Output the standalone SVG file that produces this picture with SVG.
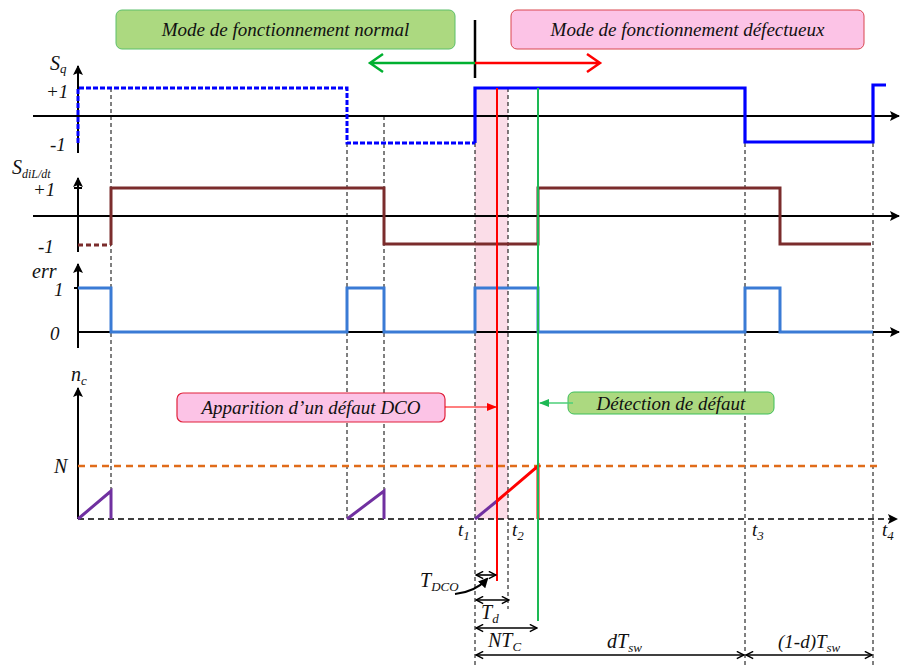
<svg xmlns="http://www.w3.org/2000/svg" width="905" height="666" viewBox="0 0 905 666">
<defs>
<marker id="ax" viewBox="0 0 10 10" refX="9" refY="5" markerWidth="10" markerHeight="10" markerUnits="userSpaceOnUse" orient="auto"><path d="M0,0 L10,5 L0,10 L2,5 z" fill="#000"/></marker>
<marker id="dim" viewBox="0 0 10 10" refX="9" refY="5" markerWidth="9" markerHeight="9" markerUnits="userSpaceOnUse" orient="auto-start-reverse"><path d="M1,1 L9,5 L1,9" fill="none" stroke="#000" stroke-width="1.6"/></marker>
<marker id="redA" viewBox="0 0 10 10" refX="9" refY="5" markerWidth="10" markerHeight="10" markerUnits="userSpaceOnUse" orient="auto"><path d="M0,1 L10,5 L0,9 z" fill="#ff0000"/></marker>
<marker id="grnA" viewBox="0 0 10 10" refX="9" refY="5" markerWidth="10" markerHeight="10" markerUnits="userSpaceOnUse" orient="auto"><path d="M0,1 L10,5 L0,9 z" fill="#1db954"/></marker>
<marker id="curA" viewBox="0 0 10 10" refX="8" refY="5" markerWidth="10" markerHeight="10" markerUnits="userSpaceOnUse" orient="auto"><path d="M0,0 L10,5 L0,10 z" fill="#000"/></marker>
</defs>
<style>
text{font-family:'Liberation Serif','DejaVu Serif',serif;font-style:italic;fill:#111;}
.lbl{font-size:19px;}
.ax{stroke:#000;stroke-width:2;fill:none;}
.dsh{stroke:#000;stroke-width:1;stroke-dasharray:4,3;fill:none;}
.dimL{stroke:#000;stroke-width:1.6;fill:none;marker-start:url(#dim);marker-end:url(#dim);}
</style>
<rect width="905" height="666" fill="#fff"/>

<g id="fault-band"><rect x="475" y="88" width="33" height="431" fill="#fbdde8"/></g>

<g id="guides">
<line class="dsh" x1="111" y1="88" x2="111" y2="519"/>
<line class="dsh" x1="347" y1="143" x2="347" y2="519"/>
<line class="dsh" x1="384" y1="116" x2="384" y2="519"/>
<line class="dsh" x1="475" y1="143" x2="475" y2="666"/>
<line class="dsh" x1="508" y1="88" x2="508" y2="609"/>
<line class="dsh" x1="745" y1="143" x2="745" y2="666"/>
<line class="dsh" x1="873" y1="143" x2="873" y2="666"/>
</g>

<g id="axes">
<line class="ax" x1="78" y1="153" x2="78" y2="66" marker-end="url(#ax)"/>
<line class="ax" x1="33" y1="116" x2="899" y2="116" marker-end="url(#ax)"/>
<line class="ax" x1="78" y1="252" x2="78" y2="178" marker-end="url(#ax)"/>
<line class="ax" x1="74" y1="188" x2="82" y2="188"/>
<line class="ax" x1="33" y1="216" x2="899" y2="216" marker-end="url(#ax)" stroke-width="1.6"/>
<line class="ax" x1="78" y1="348" x2="78" y2="264" marker-end="url(#ax)"/>
<line class="ax" x1="74" y1="288" x2="78" y2="288"/>
<line class="ax" x1="78" y1="332" x2="899" y2="332" marker-end="url(#ax)" stroke-width="1.6"/>
<line class="ax" x1="78" y1="519" x2="78" y2="388" marker-end="url(#ax)"/>
<line x1="78" y1="519" x2="897" y2="519" stroke="#000" stroke-width="1.6" stroke-dasharray="6,4" marker-end="url(#ax)"/>
<line x1="78" y1="466" x2="878" y2="466" stroke="#e06c1a" stroke-width="2.5" stroke-dasharray="7,5"/>
</g>

<g id="signal-sq">
<path d="M78,143 L78,88 L347,88 L347,143 L475,143" fill="none" stroke="#0000ff" stroke-width="3" stroke-dasharray="5,2"/>
<path d="M475,143 L475,88 L745,88 L745,142 L873,142 L873,85 L886,85" fill="none" stroke="#0000ff" stroke-width="3.2"/>
</g>

<g id="signal-sdil">
<path d="M78,245 L111,245" fill="none" stroke="#7b2c2c" stroke-width="3" stroke-dasharray="5,3"/>
<path d="M111,245 L111,188 L384,188 L384,244 L538,244 L538,188 L780,188 L780,244 L871,244" fill="none" stroke="#7b2c2c" stroke-width="3"/>
</g>

<g id="signal-err">
<path d="M78,288 L111,288 L111,332 L347,332 L347,288 L384,288 L384,332 L475,332 L475,288 L538,288 L538,332 L745,332 L745,288 L780,288 L780,332 L873,332" fill="none" stroke="#3a7bd5" stroke-width="3"/>
</g>

<g id="signal-nc">
<path d="M78,519 L111,491 L111,519" fill="none" stroke="#7030a0" stroke-width="3"/>
<path d="M347,519 L384,491 L384,519" fill="none" stroke="#7030a0" stroke-width="3"/>
<path d="M475,519 L497,501" fill="none" stroke="#7030a0" stroke-width="3"/>
<path d="M497,501 L538,466 L538,519" fill="none" stroke="#ff0000" stroke-width="3"/>
</g>

<g id="event-lines">
<line x1="497" y1="88" x2="497" y2="581" stroke="#ff0000" stroke-width="2"/>
<line x1="538" y1="88" x2="538" y2="621" stroke="#1db954" stroke-width="2"/>
</g>

<g id="mode-normal">
<rect x="116" y="10" width="339" height="39" rx="6" fill="#acd980" stroke="#5cbf6a" stroke-width="1"/>
<text class="lbl" x="285.5" y="36" text-anchor="middle">Mode de fonctionnement normal</text>
</g>
<g id="mode-defect">
<rect x="511" y="10" width="353" height="39" rx="6" fill="#fcc3e6" stroke="#d9464f" stroke-width="1"/>
<text class="lbl" x="687.5" y="36" text-anchor="middle">Mode de fonctionnement défectueux</text>
</g>
<g id="apparition">
<rect x="177" y="393" width="268" height="29" rx="6" fill="#fcc3e6" stroke="#e0203a" stroke-width="1.2"/>
<text class="lbl" x="311" y="414" text-anchor="middle">Apparition d’un défaut DCO</text>
</g>
<g id="detection">
<rect x="568" y="392" width="206" height="22" rx="6" fill="#acd980" stroke="#3cbf5a" stroke-width="1"/>
<text class="lbl" x="671" y="410" text-anchor="middle">Détection de défaut</text>
</g>

<g id="connectors">
<line x1="475" y1="20" x2="475" y2="78" stroke="#000" stroke-width="2.5"/>
<path d="M475,63 L370,63 M383,54 L370,63 L383,72" fill="none" stroke="#00b030" stroke-width="2.5"/>
<path d="M475,63 L600,63 M587,54 L600,63 L587,72" fill="none" stroke="#ff0000" stroke-width="2.5"/>
<line x1="445" y1="407" x2="496" y2="407" stroke="#ff0000" stroke-width="1.2" marker-end="url(#redA)"/>
<line x1="573" y1="403" x2="540" y2="403" stroke="#4ccf78" stroke-width="1.5" marker-end="url(#grnA)"/>
<path d="M455,594 Q475,592 487,579" fill="none" stroke="#000" stroke-width="2" marker-end="url(#curA)"/>
<line class="dimL" x1="476" y1="575" x2="496" y2="575"/>
<line class="dimL" x1="476" y1="600" x2="509" y2="600"/>
<line class="dimL" x1="476" y1="628" x2="537" y2="628"/>
<line class="dimL" x1="476" y1="655" x2="744" y2="655"/>
<line class="dimL" x1="746" y1="655" x2="872" y2="655"/>
</g>

<g id="labels">
<text font-size="20" x="50" y="70">S<tspan font-size="13" dy="3">q</tspan></text>
<text font-size="19" x="46" y="98">+1</text>
<text font-size="19" x="50" y="151">-1</text>
<text font-size="20" x="12" y="174">S<tspan font-size="12" dy="4">diL/dt</tspan></text>
<text font-size="19" x="33" y="196">+1</text>
<text font-size="19" x="38" y="253">-1</text>
<text font-size="20" x="32" y="278">err</text>
<text font-size="19" x="54" y="296">1</text>
<text font-size="19" x="50" y="340">0</text>
<text font-size="20" x="71" y="381">n<tspan font-size="13" dy="4">c</tspan></text>
<text font-size="20" x="54" y="473">N</text>
<text font-size="19" x="458" y="536">t<tspan font-size="13" dy="4">1</tspan></text>
<text font-size="19" x="512" y="536">t<tspan font-size="13" dy="4">2</tspan></text>
<text font-size="19" x="752" y="536">t<tspan font-size="13" dy="4">3</tspan></text>
<text font-size="19" x="882" y="536">t<tspan font-size="13" dy="4">4</tspan></text>
<text font-size="20" x="420" y="587">T<tspan font-size="13" dy="4">DCO</tspan></text>
<text font-size="20" x="481" y="619">T<tspan font-size="13" dy="4">d</tspan></text>
<text font-size="20" x="488" y="647">NT<tspan font-size="13" dy="4">C</tspan></text>
<text font-size="20" x="607" y="648">dT<tspan font-size="13" dy="4">sw</tspan></text>
<text font-size="19" x="778" y="648">(1-d)T<tspan font-size="13" dy="4">sw</tspan></text>
</g>
</svg>
